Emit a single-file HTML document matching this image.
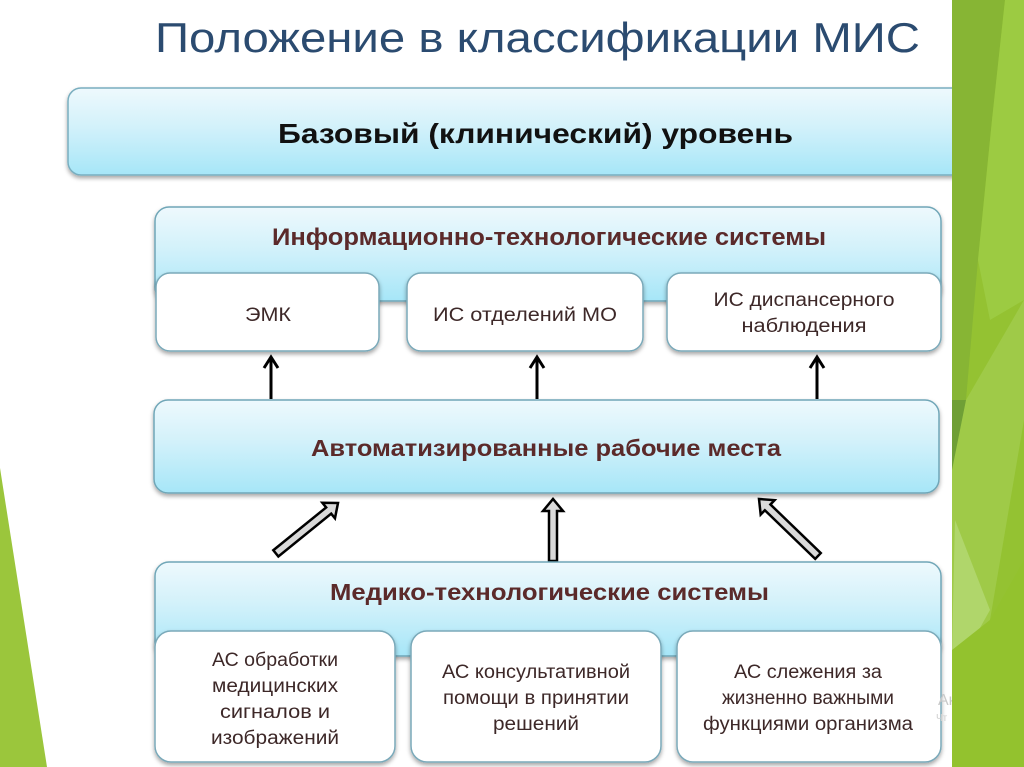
<!DOCTYPE html>
<html>
<head>
<meta charset="utf-8">
<style>
  html,body{margin:0;padding:0;background:#fff;}
  body{width:1024px;height:767px;overflow:hidden;}
  svg{display:block;}
  text{font-family:"Liberation Sans","Noto Sans CJK SC",sans-serif;}
</style>
</head>
<body>
<svg width="1024" height="767" viewBox="0 0 1024 767" xmlns="http://www.w3.org/2000/svg">
  <defs>
    <linearGradient id="cy" x1="0" y1="0" x2="0" y2="1">
      <stop offset="0" stop-color="#eef9fd"/>
      <stop offset="0.45" stop-color="#d2f1fa"/>
      <stop offset="1" stop-color="#a6e6f8"/>
    </linearGradient>
    <filter id="sh" x="-5%" y="-10%" width="110%" height="130%">
      <feDropShadow dx="0" dy="2.5" stdDeviation="2" flood-color="#000" flood-opacity="0.35"/>
    </filter>
  </defs>

  <rect width="1024" height="767" fill="#ffffff"/>

  <!-- left green triangle -->
  <polygon points="0,468 0,767 47,767" fill="#9bc63c"/>

  <!-- title -->
  <text x="155" y="52" font-size="42" fill="#2b4b70" textLength="765" lengthAdjust="spacingAndGlyphs">Положение в классификации МИС</text>

  <!-- base level box -->
  <rect x="68" y="88" width="900" height="87" rx="13" fill="url(#cy)" stroke="#79aebf" stroke-width="1.5" filter="url(#sh)"/>
  <text x="278" y="143" font-size="28" font-weight="bold" fill="#111" textLength="515" lengthAdjust="spacingAndGlyphs">Базовый (клинический) уровень</text>

  <!-- ИТС container -->
  <rect x="155" y="207" width="786" height="94" rx="14" fill="url(#cy)" stroke="#6fa6b7" stroke-width="1.5" filter="url(#sh)"/>
  <text x="272" y="245" font-size="24" font-weight="bold" fill="#5b2a2a" textLength="554" lengthAdjust="spacingAndGlyphs">Информационно-технологические системы</text>

  <!-- ИТС sub boxes -->
  <rect x="156" y="273" width="223" height="78" rx="14" fill="#fff" stroke="#7aa9b9" stroke-width="1.5" filter="url(#sh)"/>
  <rect x="407" y="273" width="236" height="78" rx="14" fill="#fff" stroke="#7aa9b9" stroke-width="1.5" filter="url(#sh)"/>
  <rect x="667" y="273" width="274" height="78" rx="14" fill="#fff" stroke="#7aa9b9" stroke-width="1.5" filter="url(#sh)"/>
  <text x="268" y="321" font-size="19" fill="#3d2828" text-anchor="middle" textLength="46" lengthAdjust="spacingAndGlyphs">ЭМК</text>
  <text x="525" y="321" font-size="19" fill="#3d2828" text-anchor="middle" textLength="184" lengthAdjust="spacingAndGlyphs">ИС  отделений МО</text>
  <text x="804" y="306" font-size="19" fill="#3d2828" text-anchor="middle" textLength="181" lengthAdjust="spacingAndGlyphs">ИС диспансерного</text>
  <text x="804" y="332" font-size="19" fill="#3d2828" text-anchor="middle" textLength="125" lengthAdjust="spacingAndGlyphs">наблюдения</text>

  <!-- black arrows -->
  <g stroke="#000" stroke-width="3" fill="none" stroke-linecap="butt">
    <line x1="271" y1="399" x2="271" y2="358"/>
    <polyline points="264,368 271,357 278,368"/>
    <line x1="537" y1="399" x2="537" y2="358"/>
    <polyline points="530,368 537,357 544,368"/>
    <line x1="817" y1="399" x2="817" y2="358"/>
    <polyline points="810,368 817,357 824,368"/>
  </g>

  <!-- АРМ box -->
  <rect x="154" y="400" width="785" height="93" rx="14" fill="url(#cy)" stroke="#6fa6b7" stroke-width="1.5" filter="url(#sh)"/>
  <text x="311" y="456" font-size="23" font-weight="bold" fill="#5b2a2a" textLength="470" lengthAdjust="spacingAndGlyphs">Автоматизированные рабочие места</text>

  <!-- block arrows -->
  <g fill="#d9d9d9" stroke="#000" stroke-width="2.5" stroke-linejoin="miter">
    <polygon points="549,561 557,561 557,511 563,511 553,499 543,511 549,511"/>
    <g transform="translate(338,503) rotate(51)">
      <polygon points="-4,80 4,80 4,12 10,12 0,0 -10,12 -4,12"/>
    </g>
    <g transform="translate(759,499) rotate(-46)">
      <polygon points="-4,82 4,82 4,12 10,12 0,0 -10,12 -4,12"/>
    </g>
  </g>

  <!-- МТС container -->
  <rect x="155" y="562" width="786" height="94" rx="14" fill="url(#cy)" stroke="#6fa6b7" stroke-width="1.5" filter="url(#sh)"/>
  <text x="330" y="600" font-size="23" font-weight="bold" fill="#5b2a2a" textLength="439" lengthAdjust="spacingAndGlyphs">Медико-технологические системы</text>

  <!-- МТС sub boxes -->
  <rect x="155" y="631" width="240" height="131" rx="16" fill="#fff" stroke="#7aa9b9" stroke-width="1.5" filter="url(#sh)"/>
  <rect x="411" y="631" width="250" height="131" rx="16" fill="#fff" stroke="#7aa9b9" stroke-width="1.5" filter="url(#sh)"/>
  <rect x="677" y="631" width="264" height="131" rx="16" fill="#fff" stroke="#7aa9b9" stroke-width="1.5" filter="url(#sh)"/>

  <g font-size="19" fill="#3d2828" text-anchor="middle">
    <text x="275" y="666" textLength="126" lengthAdjust="spacingAndGlyphs">АС обработки</text>
    <text x="275" y="692" textLength="126" lengthAdjust="spacingAndGlyphs">медицинских</text>
    <text x="275" y="718" textLength="110" lengthAdjust="spacingAndGlyphs">сигналов и</text>
    <text x="275" y="744" textLength="128" lengthAdjust="spacingAndGlyphs">изображений</text>

    <text x="536" y="678" textLength="188" lengthAdjust="spacingAndGlyphs">АС консультативной</text>
    <text x="536" y="704" textLength="186" lengthAdjust="spacingAndGlyphs">помощи в принятии</text>
    <text x="536" y="730" textLength="86" lengthAdjust="spacingAndGlyphs">решений</text>

    <text x="808" y="678" textLength="148" lengthAdjust="spacingAndGlyphs">АС слежения за</text>
    <text x="808" y="704" textLength="172" lengthAdjust="spacingAndGlyphs">жизненно важными</text>
    <text x="808" y="730" textLength="210" lengthAdjust="spacingAndGlyphs">функциями организма</text>
  </g>

  <!-- faint watermark -->
  <text x="938" y="705" font-size="16" fill="#c9c9c9">Ак</text>
  <text x="936" y="721" font-size="10" fill="#cfcfcf">Чт</text>

  <!-- right green bar -->
  <rect x="952" y="0" width="72" height="767" fill="#94c232"/>
  <polygon points="952,0 1005,0 992,120 978,260 966,400 958,470 952,480" fill="#87b534"/>
  <polygon points="1005,0 1024,0 1024,300 990,320 978,260 992,120" fill="#9ccb42"/>
  <polygon points="952,400 966,400 960,470 952,500" fill="#6f9f36"/>
  <polygon points="952,470 966,400 1024,300 1024,420 990,620 960,650 952,650" fill="#9fca48"/>
  <polygon points="955,520 990,610 962,660 952,650" fill="#b4d874" opacity="0.8"/>
  <polygon points="952,650 990,620 1024,560 1024,767 952,767" fill="#93c22e"/>
</svg>
</body>
</html>
